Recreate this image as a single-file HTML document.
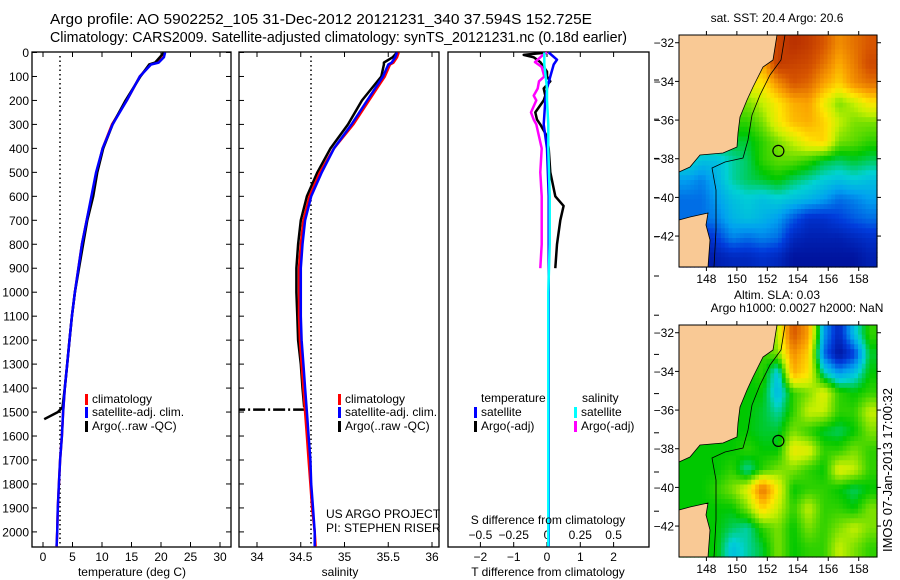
<!DOCTYPE html>
<html><head><meta charset="utf-8">
<style>
body{margin:0;background:#fff;}
svg{display:block;font-family:"Liberation Sans",sans-serif;}
text{fill:#000;}
</style></head>
<body>
<svg id="fig" width="900" height="580" viewBox="0 0 900 580" xmlns="http://www.w3.org/2000/svg">
<text x="50" y="24" font-size="14.5" textLength="542" lengthAdjust="spacingAndGlyphs">Argo profile: AO 5902252_105 31-Dec-2012 20121231_340 37.594S 152.725E</text>
<text x="50" y="42" font-size="14.5" textLength="577" lengthAdjust="spacingAndGlyphs">Climatology: CARS2009. Satellite-adjusted climatology: synTS_20121231.nc (0.18d earlier)</text>
<g id="m1"></g>
<g id="m2"></g>
<g id="g1"></g>
<g id="g2"></g>
<g id="g3"></g>
<text transform="translate(892,470) rotate(-90)" text-anchor="middle" font-size="13">IMOS 07-Jan-2013 17:00:32</text>
</svg>
<script>
// ---------- data ----------
const depthTicks=[0,100,200,300,400,500,600,700,800,900,1000,1100,1200,1300,1400,1500,1600,1700,1800,1900,2000];
const tempTicks=[0,5,10,15,20,25,30];
const salTicks=[34,34.5,35,35.5,36];
const salTickLabels=["34","34.5","35","35.5","36"];
const tdiffTicks=[-2,-1,0,1,2];
const sdiffTicks=[-0.5,-0.25,0,0.25,0.5];
const sdiffLabels=["-0.5","-0.25","0","0.25","0.5"];

const climDepth=[0,20,42,50,100,200,300,400,500,600,700,800,900,1000,1100,1200,1300,1400,1500,1600,1700,1800,1900,2000,2060];
const climTemp=[20.6,20.4,19.4,18.2,16.4,14.2,11.7,10.1,9.1,8.3,7.4,6.6,6.0,5.4,4.9,4.5,4.1,3.7,3.4,3.2,2.9,2.7,2.5,2.4,2.3];
const satTemp=[20.7,20.5,19.6,18.3,16.4,14.2,11.8,10.1,9.0,8.2,7.4,6.6,6.0,5.4,4.9,4.5,4.1,3.7,3.4,3.2,2.9,2.7,2.5,2.4,2.3];
const argoDepth=[0,20,42,50,100,200,300,400,500,600,700,800,900,1000,1100,1200,1300,1400,1480,1500,1530];
const argoTemp=[20.5,19.8,19.0,18.0,16.5,14.0,11.8,10.2,9.2,8.5,7.5,6.8,6.1,5.4,4.9,4.5,4.1,3.7,3.3,2.5,0.2];

const climSal=[35.62,35.6,35.56,35.52,35.46,35.28,35.1,34.88,34.72,34.6,34.53,34.5,34.48,34.48,34.48,34.49,34.51,34.53,34.55,34.57,34.59,34.61,34.63,34.66,34.67];
const satSal=[35.6,35.58,35.54,35.5,35.44,35.26,35.08,34.88,34.74,34.62,34.55,34.52,34.5,34.5,34.5,34.51,34.53,34.55,34.57,34.59,34.61,34.62,34.64,34.66,34.66];
const argoSal=[35.6,35.55,35.45,35.45,35.42,35.2,35.04,34.84,34.69,34.57,34.5,34.47,34.45,34.45,34.46,34.47,34.5,34.52,34.54,34.0,33.8];

const diffDepth=[0,10,20,40,60,80,100,120,150,180,200,250,280,300,350,400,500,600,640,700,800,900];
const argoTdiff=[0,-0.7,-0.4,-0.2,-0.1,0,0,0.1,-0.1,-0.05,-0.1,-0.35,-0.3,-0.2,0,0.05,0.1,0.25,0.5,0.4,0.3,0.25];
const argoSdiff=[0,-0.03,-0.05,-0.09,-0.04,-0.03,-0.02,-0.06,-0.07,-0.1,-0.08,-0.12,-0.1,-0.08,-0.06,-0.04,-0.05,-0.04,-0.04,-0.04,-0.04,-0.05];
const satDepth=[0,30,50,100,150,200,300,400,600,800,1000,1500,2000,2060];
const satTdiff=[0.05,0.3,0.2,0.1,0,-0.05,-0.1,0,0.05,0.05,0.05,0.05,0.05,0.05];
const satSdiff=[-0.02,-0.02,-0.02,-0.01,0,0,0.01,0.01,0.02,0.02,0.01,0.01,0.01,0.01];

const lonTicks=[148,150,152,154,156,158];
const latTicks=[-32,-34,-36,-38,-40,-42];
const sstGrid=[
[.8,.8,.8,.8,.8,.8,.9,.95,.92,.85,.75,.8,.85],
[.8,.8,.8,.8,.8,.7,.92,.9,.88,.8,.7,.78,.88],
[.6,.6,.6,.6,.6,.62,.75,.85,.82,.72,.65,.75,.8],
[.5,.5,.5,.5,.5,.55,.62,.7,.72,.6,.5,.55,.62],
[.45,.45,.45,.45,.45,.5,.6,.68,.7,.65,.55,.5,.5],
[.4,.4,.4,.4,.4,.45,.5,.55,.62,.65,.5,.48,.45],
[.35,.3,.3,.35,.38,.45,.48,.48,.45,.4,.38,.4,.38],
[.25,.22,.28,.35,.38,.4,.42,.38,.35,.32,.3,.32,.3],
[.2,.2,.25,.3,.32,.3,.32,.3,.28,.25,.2,.22,.25],
[.2,.2,.22,.28,.3,.28,.25,.18,.12,.12,.15,.18,.2],
[.1,.1,.15,.22,.2,.22,.2,.1,.08,.08,.08,.1,.12],
[.05,.05,.08,.1,.1,.12,.1,.05,.05,.05,.05,.05,.08]];
const slaGrid=[
[.42,.42,.42,.42,.42,.45,.55,.85,.72,.25,.1,.3,.45],
[.42,.42,.42,.42,.42,.45,.5,.75,.65,.2,.05,.15,.4],
[.42,.42,.42,.42,.42,.45,.3,.7,.62,.35,.25,.3,.42],
[.42,.42,.42,.42,.42,.42,.28,.45,.5,.58,.45,.42,.45],
[.42,.42,.42,.42,.42,.4,.35,.45,.55,.55,.45,.45,.55],
[.42,.42,.42,.42,.42,.4,.4,.5,.45,.4,.38,.42,.5],
[.42,.42,.42,.42,.45,.42,.42,.6,.58,.45,.45,.5,.45],
[.42,.42,.42,.45,.35,.45,.5,.5,.45,.42,.58,.55,.45],
[.42,.42,.45,.5,.58,.8,.6,.42,.45,.45,.42,.38,.42],
[.42,.42,.42,.42,.5,.65,.55,.45,.55,.45,.45,.42,.5],
[.42,.42,.42,.38,.35,.45,.5,.42,.5,.45,.5,.55,.5],
[.42,.42,.42,.3,.35,.4,.5,.42,.45,.45,.55,.5,.45]];
const floatLon=152.725, floatLat=-37.594;

// ---------- helpers ----------
const NS="http://www.w3.org/2000/svg";
function mk(parent,tag,attrs,txt){const e=document.createElementNS(NS,tag);for(const k in attrs)e.setAttribute(k,attrs[k]);if(txt!==undefined)e.textContent=txt;parent.appendChild(e);return e;}
const yD=d=>52.5+d*0.2397;
const P1={l:32,r:231}, P2={l:239,r:439}, P3={l:448,r:649}, TOP=52, BOT=547;
const xT=t=>43+t*5.9;
const xS=s=>257+(s-34)*87.5;
const xTd=v=>547+v*33.3;
const xSd=v=>547+v*133.2;

function frame(g,P,name){
  const r=mk(g,'rect',{x:P.l,y:TOP,width:P.r-P.l,height:BOT-TOP,fill:'none',stroke:'#000','stroke-width':1.3});
  
  
}
function poly(g,xs,ds,fx,color,w,name,dash){
  const pts=xs.map((v,i)=>fx(v).toFixed(1)+','+yD(ds[i]).toFixed(1)).join(' ');
  const a={points:pts,fill:'none',stroke:color,'stroke-width':w,'stroke-linejoin':'round'};
  if(dash)a['stroke-dasharray']=dash;
  const p=mk(g,'polyline',a);
  
  
  return p;
}
function legend(g,x,y,color,label,name){
  const b=mk(g,'rect',{x:x,y:y-9,width:3,height:11,fill:color});
  
  
  const t=mk(g,'text',{x:x+7,y:y,'font-size':12},label);
  
  
}

// ---------- panel 1 ----------
const g1=document.getElementById('g1');
frame(g1,P1,'temperature-frame');
depthTicks.forEach(d=>{
  mk(g1,'line',{x1:P1.l,x2:P1.l+5,y1:yD(d),y2:yD(d),stroke:'#000'});
  mk(g1,'line',{x1:P1.r-5,x2:P1.r,y1:yD(d),y2:yD(d),stroke:'#000'});
  const t=mk(g1,'text',{x:29,y:yD(d)+4.5,'text-anchor':'end','font-size':12},String(d));
  
  
});
tempTicks.forEach(v=>{
  mk(g1,'line',{x1:xT(v),x2:xT(v),y1:TOP,y2:TOP+5,stroke:'#000'});
  mk(g1,'line',{x1:xT(v),x2:xT(v),y1:BOT-5,y2:BOT,stroke:'#000'});
  const t=mk(g1,'text',{x:xT(v),y:561,'text-anchor':'middle','font-size':12},String(v));
  
  
});
mk(g1,'line',{x1:60,x2:60,y1:TOP+4,y2:BOT,stroke:'#000','stroke-width':1.5,'stroke-dasharray':'1.5,3'});
poly(g1,climTemp,climDepth,xT,'#f00',2.5,'climatology-temperature-line');
poly(g1,argoTemp,argoDepth,xT,'#000',2.5,'argo-temperature-line');
poly(g1,satTemp,climDepth,xT,'#00f',2.5,'satellite-temperature-line');
legend(g1,85,403,'#f00','climatology','legend-climatology');
legend(g1,85,416,'#00f','satellite-adj. clim.','legend-satellite');
legend(g1,85,430,'#000','Argo(..raw -QC)','legend-argo');
{const t=mk(g1,'text',{x:132,y:576,'text-anchor':'middle','font-size':12},'temperature (deg C)');}

// ---------- panel 2 ----------
const g2=document.getElementById('g2');
frame(g2,P2,'salinity-frame');
salTicks.forEach((v,i)=>{
  mk(g2,'line',{x1:xS(v),x2:xS(v),y1:TOP,y2:TOP+5,stroke:'#000'});
  mk(g2,'line',{x1:xS(v),x2:xS(v),y1:BOT-5,y2:BOT,stroke:'#000'});
  const t=mk(g2,'text',{x:xS(v),y:561,'text-anchor':'middle','font-size':12},salTickLabels[i]);
  
  
});
depthTicks.forEach(d=>{mk(g2,'line',{x1:P2.l,x2:P2.l+5,y1:yD(d),y2:yD(d),stroke:'#000'});});
mk(g2,'line',{x1:311,x2:311,y1:TOP+4,y2:BOT,stroke:'#000','stroke-width':1.5,'stroke-dasharray':'1.5,3'});
poly(g2,argoSal.slice(0,19),argoDepth.slice(0,19),xS,'#000',2.5,'argo-salinity-line');
mk(g2,'line',{x1:xS(34.55),x2:P2.l,y1:yD(1490),y2:yD(1490),stroke:'#000','stroke-width':2.5,'stroke-dasharray':'12,3,2,3'});
poly(g2,climSal,climDepth,xS,'#f00',2.5,'climatology-salinity-line');
poly(g2,satSal,climDepth,xS,'#00f',2.5,'satellite-salinity-line');
legend(g2,338,403,'#f00','climatology','legend-climatology-sal');
legend(g2,338,416,'#00f','satellite-adj. clim.','legend-satellite-sal');
legend(g2,338,430,'#000','Argo(..raw -QC)','legend-argo-sal');
{const t=mk(g2,'text',{x:326,y:518,'font-size':12},'US ARGO PROJECT');}
{const t=mk(g2,'text',{x:326,y:532,'font-size':12},'PI: STEPHEN RISER');}
{const t=mk(g2,'text',{x:340,y:576,'text-anchor':'middle','font-size':12},'salinity');}

// ---------- panel 3 ----------
const g3=document.getElementById('g3');
frame(g3,P3,'difference-frame');
tdiffTicks.forEach(v=>{
  mk(g3,'line',{x1:xTd(v),x2:xTd(v),y1:TOP,y2:TOP+5,stroke:'#000'});
  mk(g3,'line',{x1:xTd(v),x2:xTd(v),y1:BOT-5,y2:BOT,stroke:'#000'});
  const t=mk(g3,'text',{x:xTd(v),y:561,'text-anchor':'middle','font-size':12},String(v).replace('-','\u2212'));
  
  
});
sdiffTicks.forEach((v,i)=>{
  const t=mk(g3,'text',{x:xSd(v),y:539,'text-anchor':'middle','font-size':12},sdiffLabels[i].replace('-','\u2212'));
  
  
});
for(let y=80;y<530;y+=39.2){mk(g3,'line',{x1:654,x2:659,y1:y,y2:y,stroke:'#000'});}
poly(g3,argoTdiff,diffDepth,xTd,'#000',2.5,'argo-tdiff-line');
poly(g3,argoSdiff,diffDepth,xSd,'#f0f',2.5,'argo-sdiff-line');
poly(g3,satTdiff,satDepth,xTd,'#00f',2.5,'satellite-tdiff-line');
poly(g3,satSdiff,satDepth,xSd,'#0ff',2.5,'satellite-sdiff-line');
{const t=mk(g3,'text',{x:481,y:402,'font-size':12},'temperature');}
{const t=mk(g3,'text',{x:582,y:402,'font-size':12},'salinity');}
legend(g3,474,416,'#00f','satellite','legend-t-satellite');
legend(g3,474,430,'#000','Argo(-adj)','legend-t-argo');
legend(g3,574,416,'#0ff','satellite','legend-s-satellite');
legend(g3,574,430,'#f0f','Argo(-adj)','legend-s-argo');
{const t=mk(g3,'text',{x:548,y:524,'text-anchor':'middle','font-size':12},'S difference from climatology');}
{const t=mk(g3,'text',{x:548,y:576,'text-anchor':'middle','font-size':12},'T difference from climatology');}

// ---------- maps ----------
const stops=[[0,[0,0,128]],[0.15,[0,60,220]],[0.25,[0,160,240]],[0.33,[0,210,210]],[0.42,[0,200,0]],[0.55,[200,240,0]],[0.62,[255,230,0]],[0.72,[250,160,0]],[0.85,[215,85,0]],[1,[170,30,0]]];
function cmap(v){for(let i=1;i<stops.length;i++){if(v<=stops[i][0]){const a=stops[i-1],b=stops[i],f=(v-a[0])/(b[0]-a[0]);return 'rgb('+a[1].map((c,k)=>Math.round(c+(b[1][k]-c)*f)).join(',')+')';}}return 'rgb(170,30,0)';}
function sample(grid,fr,fc){
  const nr=grid.length,nc=grid[0].length;
  const r=Math.max(0,Math.min(nr-1,fr-0.5)),c=Math.max(0,Math.min(nc-1,fc-0.5));
  const r0=Math.floor(r),c0=Math.floor(c),r1=Math.min(nr-1,r0+1),c1=Math.min(nc-1,c0+1);
  const a=r-r0,b=c-c0;
  return grid[r0][c0]*(1-a)*(1-b)+grid[r0][c1]*(1-a)*b+grid[r1][c0]*a*(1-b)+grid[r1][c1]*a*b;
}
function drawMap(id,grid,top,titles){
  const g=document.getElementById(id);
  const L=679,R=877,T=top,B=top+232;
  const lon0=146.2,lon1=159.2,lat0=-31.6,lat1=-43.6;
  const xL=lo=>L+(lo-lon0)/(lon1-lon0)*(R-L);
  const yL=la=>T+(lat0-la)/(lat0-lat1)*(B-T);
  titles.forEach((s,i)=>{const t=mk(g,'text',{x:titles.length>1&&i==1?797:777,y:top-13-(titles.length-1-i)*13,'text-anchor':'middle','font-size':12},s);});
  const nr=grid.length,nc=grid[0].length,S=4;
  for(let r=0;r<nr*S;r++)for(let c=0;c<nc*S;c++){
    const v=sample(grid,(r+0.5)/S,(c+0.5)/S);
    const x0=L+c*(R-L)/(nc*S),x1=L+(c+1)*(R-L)/(nc*S);
    const y0=T+r*(B-T)/(nr*S),y1=T+(r+1)*(B-T)/(nr*S);
    const cell=mk(g,'rect',{x:x0.toFixed(1),y:y0.toFixed(1),width:(x1-x0+0.6).toFixed(1),height:(y1-y0+0.6).toFixed(1),fill:cmap(v)});
    
    
  }
  const o=top-35;
  const land1=[[679,35],[777,35],[773,60],[763,67],[753,87],[747,100],[740,117],[738,133],[737,147],[723,153],[700,155],[690,167],[679,172]];
  const land2=[[679,220],[690,217],[708,213],[706,225],[710,240],[708,267],[679,267]];
  [land1,land2].forEach(Lp=>{const p=mk(g,'polygon',{points:Lp.map(q=>q[0]+','+(q[1]+o)).join(' '),fill:'#f9c995',stroke:'#000','stroke-width':0.8});});
  const shelf=[[785,35],[781,60],[770,75],[760,95],[752,115],[748,140],[743,158],[725,162],[712,168],[716,190],[716,230],[714,267]];
  mk(g,'polyline',{points:shelf.map(q=>q[0]+','+(q[1]+o)).join(' '),fill:'none',stroke:'#000','stroke-width':0.8});
  mk(g,'rect',{x:L,y:T,width:R-L,height:B-T,fill:'none',stroke:'#000','stroke-width':1});
  lonTicks.forEach(lo=>{
    mk(g,'line',{x1:xL(lo),x2:xL(lo),y1:T-4,y2:T,stroke:'#000'});
    mk(g,'line',{x1:xL(lo),x2:xL(lo),y1:B,y2:B+4,stroke:'#000'});
    const t=mk(g,'text',{x:xL(lo),y:B+16,'text-anchor':'middle','font-size':12},String(lo));
    
    
  });
  latTicks.forEach(la=>{
    mk(g,'line',{x1:L-4,x2:L,y1:yL(la),y2:yL(la),stroke:'#000'});
    mk(g,'line',{x1:R,x2:R+4,y1:yL(la),y2:yL(la),stroke:'#000'});
    const t=mk(g,'text',{x:L-5,y:yL(la)+4.5,'text-anchor':'end','font-size':12},String(la).replace('-','\u2212'));
    
    
  });
  const c=mk(g,'circle',{cx:xL(floatLon),cy:yL(floatLat),r:5.5,fill:'none',stroke:'#000','stroke-width':1.2});
  
  
}
drawMap('m1',sstGrid,35,['sat. SST: 20.4 Argo: 20.6']);
drawMap('m2',slaGrid,325,['Altim. SLA: 0.03','Argo h1000: 0.0027 h2000: NaN']);
</script>
</body></html>
